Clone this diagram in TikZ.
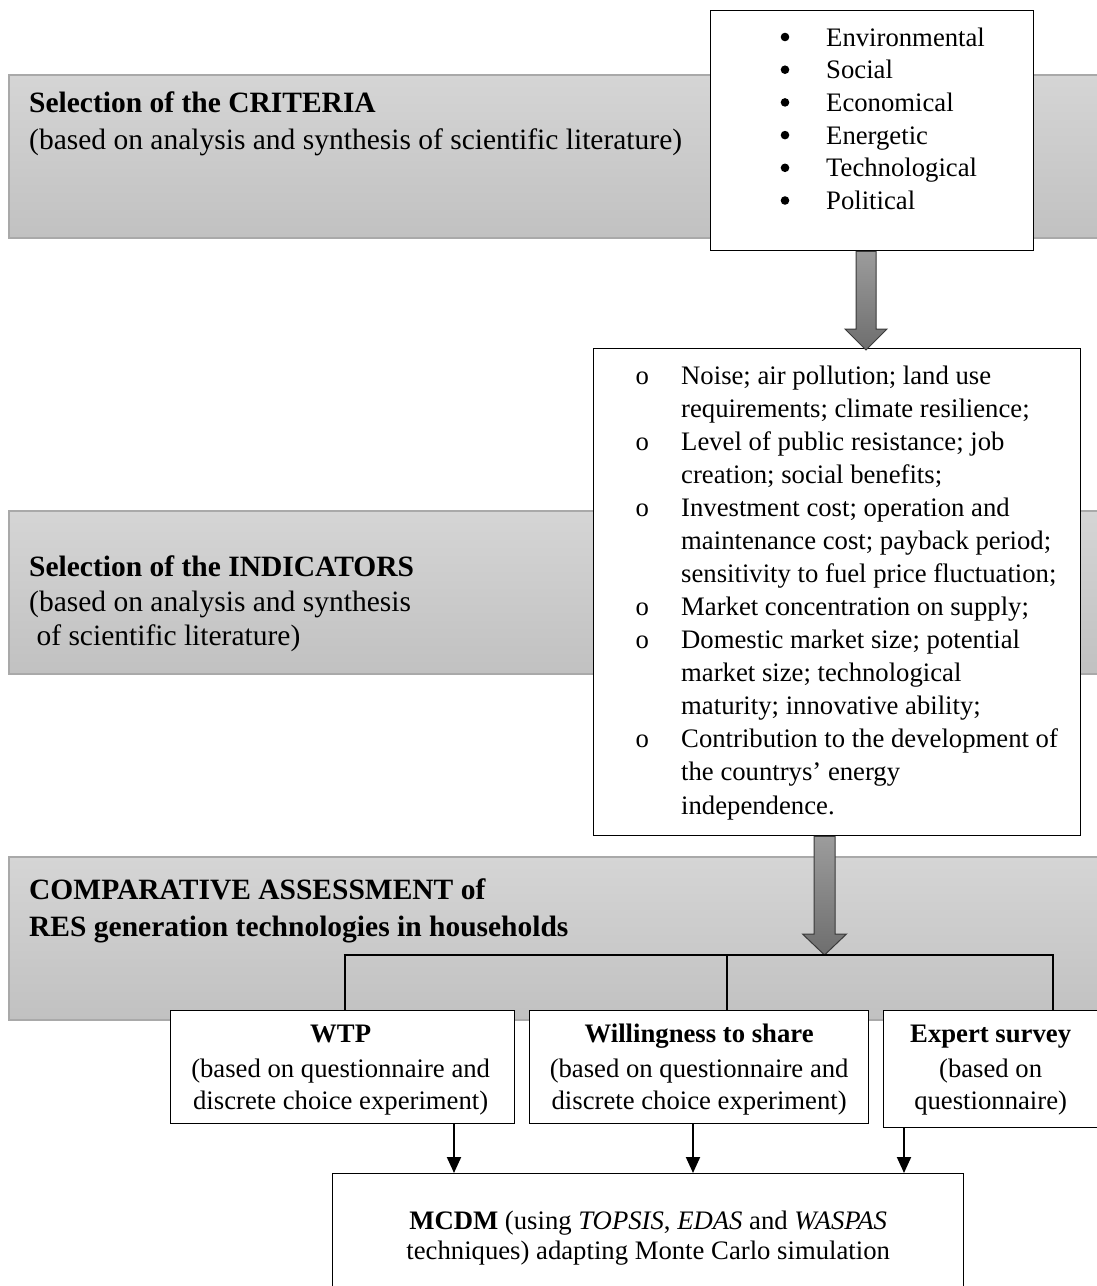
\documentclass[tikz,border=0pt]{standalone}
\usepackage{fontspec}
\setmainfont{Liberation Serif}
\usetikzlibrary{arrows.meta,calc}
\definecolor{bandtop}{HTML}{D5D5D5}
\definecolor{bandbot}{HTML}{C1C1C1}
\definecolor{bandline}{HTML}{A9A9A9}
\definecolor{arrtop}{HTML}{9C9C9C}
\definecolor{arrbot}{HTML}{6E6E6E}
\definecolor{arrline}{HTML}{3A3A3A}
\begin{document}
\begin{tikzpicture}[x=1pt,y=-1pt,
  font=\fontsize{26.7}{33}\selectfont,
  band/.style={draw=bandline,line width=1.5pt,top color=bandtop,bottom color=bandbot,
    minimum width=1092pt,minimum height=163pt,anchor=north west,inner sep=0pt},
  box/.style={draw=black,line width=1.3pt,fill=white,anchor=north west,inner sep=0pt},
  bandtext/.style={inner sep=0pt,anchor=base west,font=\fontsize{29.5}{37}\selectfont},
  listtext/.style={inner sep=0pt,anchor=base west},
  boxtext/.style={inner sep=0pt,anchor=base},
  bigarrow/.style={draw=arrline,line width=1pt,top color=arrtop,bottom color=arrbot,line join=miter},
  tree/.style={draw=black,line width=2.6pt},
  flow/.style={draw=black,line width=2pt,-{Triangle[width=14pt,length=16pt]}}]

\useasboundingbox (0,0) rectangle (1096,1286);

% grey stage bands
\node[band] (band1) at (8,74) {};
\node[band] (band2) at (8,510) {};
\node[band] (band3) at (8,856) {};

% stage titles
\node[bandtext] (t1) at (29,112) {\begin{tabular}[t]{@{}l@{}}
  \textbf{Selection of the CRITERIA}\\
  (based on analysis and synthesis of scientific literature)\end{tabular}};
\node[bandtext] (t2) at (29,576) {\begin{tabular}[t]{@{}l@{}}
  \textbf{Selection of the INDICATORS}\\[-2pt]
  (based on analysis and synthesis\\[-3pt]
  \ of scientific literature)\end{tabular}};
\node[bandtext] (t3) at (29,899) {\begin{tabular}[t]{@{}l@{}}
  \textbf{COMPARATIVE ASSESSMENT of}\\
  \textbf{RES generation technologies in households}\end{tabular}};

% criteria box with its bulleted list
\node[box,minimum width=323pt,minimum height=240pt] (crit) at (710,10) {};
\node[listtext,font=\fontsize{26.7}{32.7}\selectfont] (critlist) at (826,46)
  {\begin{tabular}[t]{@{}l@{}}
  Environmental\\
  Social\\
  Economical\\
  Energetic\\
  Technological\\
  Political\end{tabular}};
\foreach \i in {0,...,5}
  \fill ($(critlist.base west)+(-41,-9+32.7*\i)$) circle (4.3pt);

% indicators box
\node[box,minimum width=487pt,minimum height=487pt] (ind) at (593,348) {};
\node[listtext,font=\fontsize{26.7}{33.08}\selectfont] (indlist) at (635.5,384)
  {\begin{tabular}[t]{@{}p{45.5pt}@{}l@{}}
  o & Noise; air pollution; land use\\
    & requirements; climate resilience;\\
  o & Level of public resistance; job\\
    & creation; social benefits;\\
  o & Investment cost; operation and\\
    & maintenance cost; payback period;\\
    & sensitivity to fuel price fluctuation;\\
  o & Market concentration on supply;\\
  o & Domestic market size; potential\\
    & market size; technological\\
    & maturity; innovative ability;\\
  o & Contribution to the development of\\
    & the countrys’ energy\\
    & independence.\end{tabular}};

% broad arrows between the stages
\coordinate (a1top) at (866,250);
\coordinate (a1tip) at (866,350);
\coordinate (a2top) at (824.5,835);
\coordinate (a2tip) at (824.5,955);
\path[bigarrow] ([xshift=-10pt]a1top |- crit.south) -- ([xshift=10pt]a1top |- crit.south)
  -- ([xshift=10pt,yshift=21pt]a1tip) -- ([xshift=21pt,yshift=21pt]a1tip) -- (a1tip)
  -- ([xshift=-21pt,yshift=21pt]a1tip) -- ([xshift=-10pt,yshift=21pt]a1tip) -- cycle;
\path[bigarrow] ([xshift=-10.5pt]a2top |- ind.south) -- ([xshift=10.5pt]a2top |- ind.south)
  -- ([xshift=10.5pt,yshift=21pt]a2tip) -- ([xshift=22pt,yshift=21pt]a2tip) -- (a2tip)
  -- ([xshift=-22pt,yshift=21pt]a2tip) -- ([xshift=-10.5pt,yshift=21pt]a2tip) -- cycle;

% survey boxes
\node[box,minimum width=344pt,minimum height=113pt] (wtp) at (170,1010) {};
\node[box,minimum width=339pt,minimum height=113pt] (will) at (529,1010) {};
\node[box,minimum width=216pt,minimum height=117pt] (exp) at (883,1010) {};
\node[boxtext] (wtptext) at ($(wtp.north)+(-2,32)$) {\begin{tabular}[t]{@{}c@{}}
  \textbf{WTP}\\[2pt]
  (based on questionnaire and\\[-1pt]
  discrete choice experiment)\end{tabular}};
\node[boxtext] (willtext) at ($(will.north)+(0,32)$) {\begin{tabular}[t]{@{}c@{}}
  \textbf{Willingness to share}\\[2pt]
  (based on questionnaire and\\[-1pt]
  discrete choice experiment)\end{tabular}};
\node[boxtext] (exptext) at ($(exp.north)+(-1,32)$) {\begin{tabular}[t]{@{}c@{}}
  \textbf{Expert survey}\\[2pt]
  (based on\\[-1pt]
  questionnaire)\end{tabular}};

% branching connector
\coordinate (jl) at (345,955);
\coordinate (jm) at (727,955);
\coordinate (jr) at (1053,955);
\draw[tree] ([xshift=-1.3pt]jl) -- ([xshift=1.3pt]jr);
\draw[tree] (jl) -- (jl |- wtp.north);
\draw[tree] (jm) -- (jm |- will.north);
\draw[tree] (jr) -- (jr |- exp.north);

% final box
\node[box,minimum width=631pt,minimum height=140pt] (mcdm) at (332,1173) {};
\node[boxtext] (mcdmtext) at ($(mcdm.north)+(0,56)$) {\begin{tabular}[t]{@{}c@{}}
  \textbf{MCDM} (using \textit{TOPSIS}, \textit{EDAS} and \textit{WASPAS}\\[-3pt]
  techniques) adapting Monte Carlo simulation\end{tabular}};

% arrows into the final box
\coordinate (d1) at (454,0);
\coordinate (d2) at (693,0);
\coordinate (d3) at (904,0);
\draw[flow] (wtp.south -| d1) -- (mcdm.north -| d1);
\draw[flow] (will.south -| d2) -- (mcdm.north -| d2);
\draw[flow] (exp.south -| d3) -- (mcdm.north -| d3);
\end{tikzpicture}
\end{document}
